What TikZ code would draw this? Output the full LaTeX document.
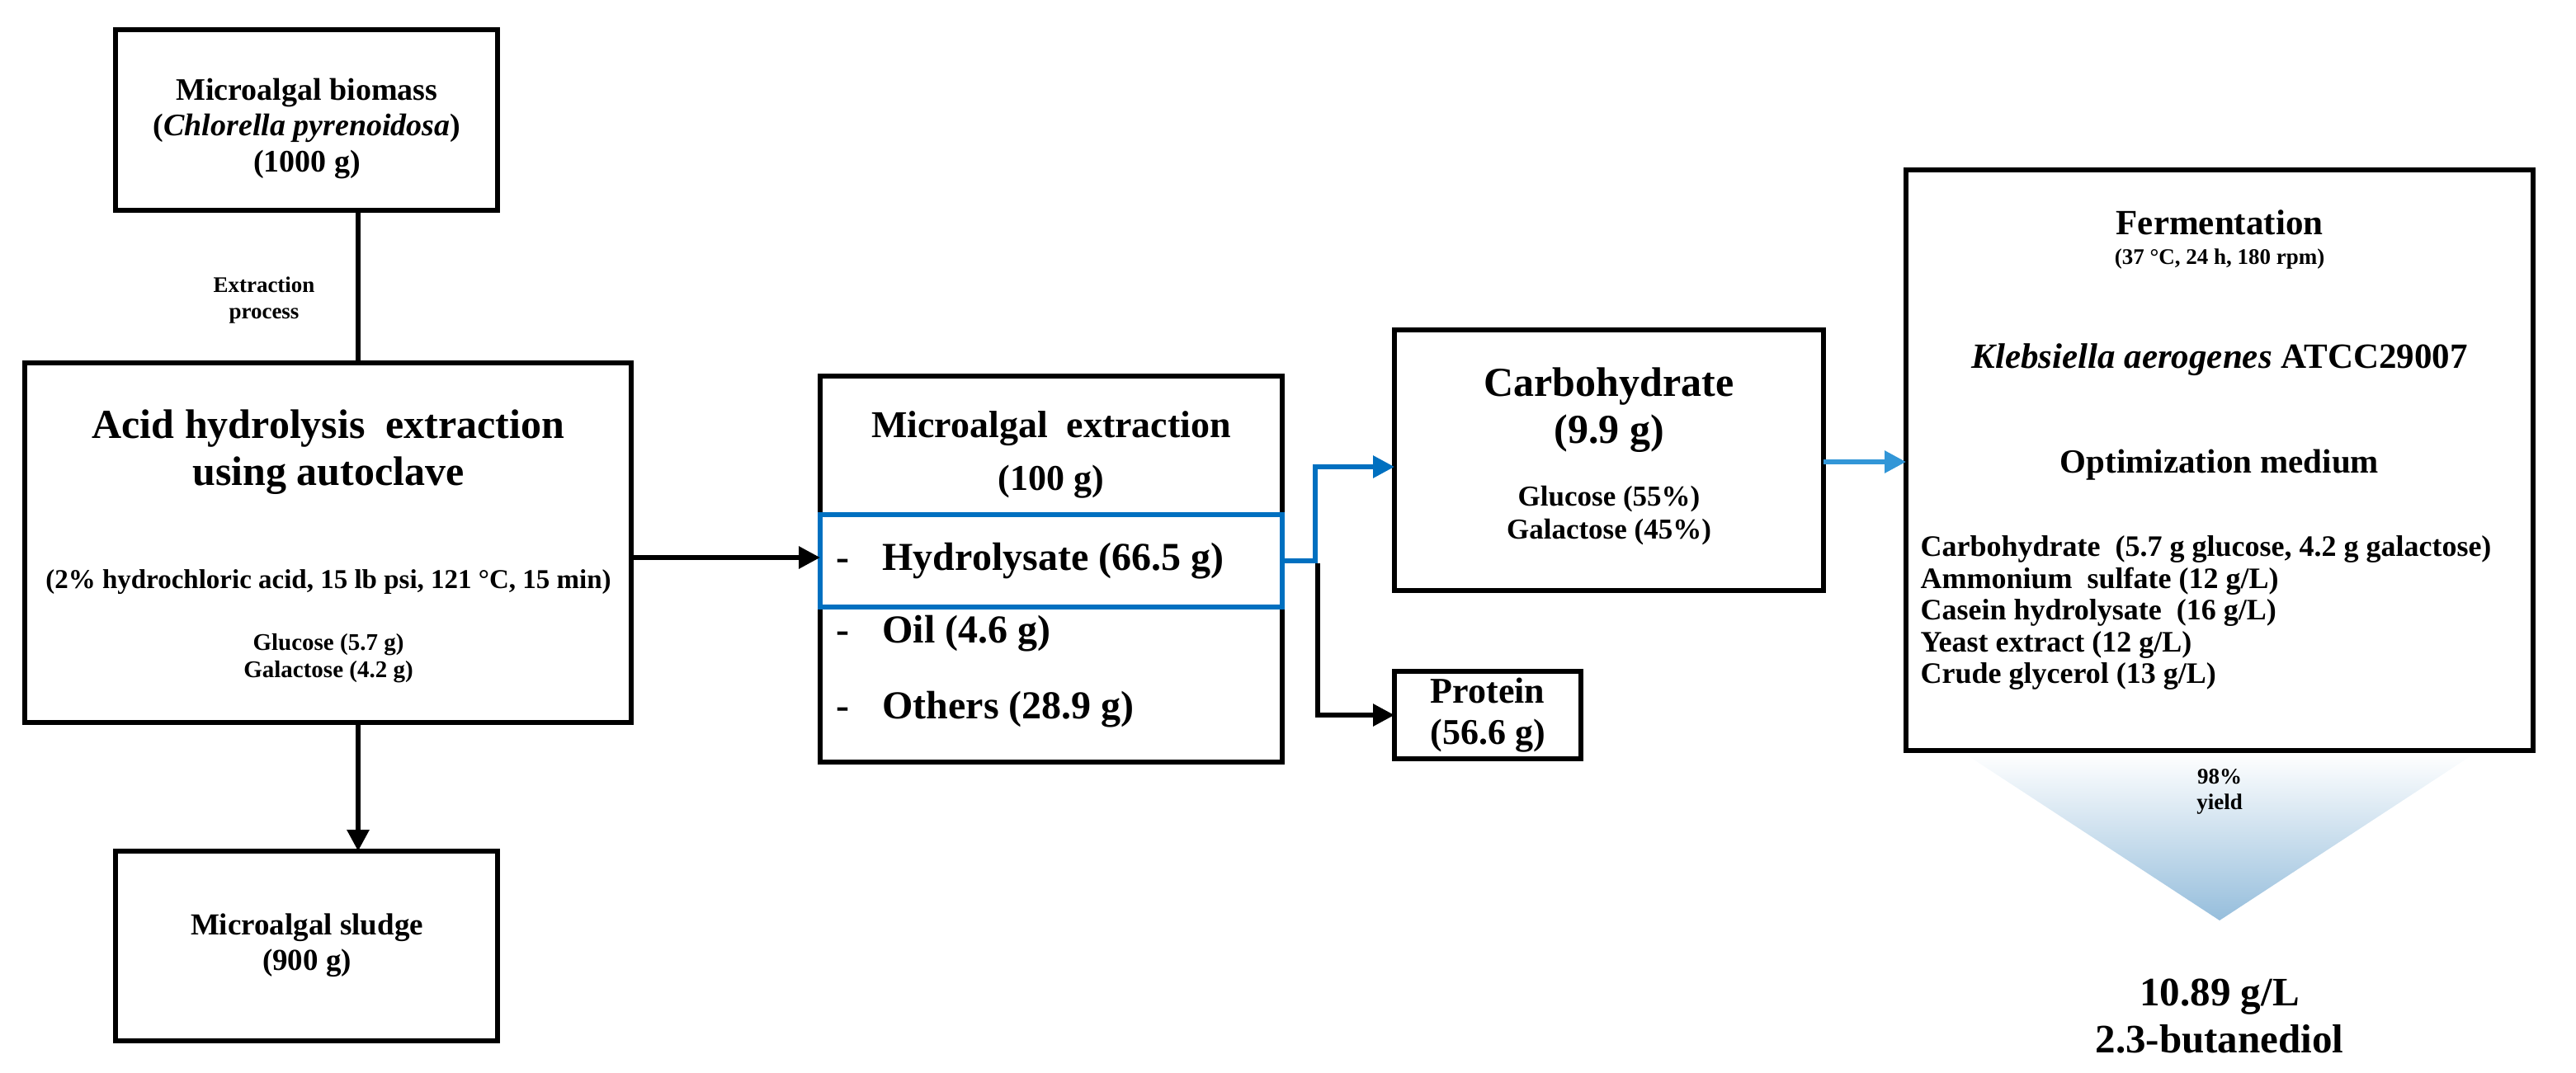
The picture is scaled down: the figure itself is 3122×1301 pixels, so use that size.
\documentclass[tikz,border=0pt]{standalone}
\usepackage{fontspec}
\setmainfont{Liberation Serif}
\usetikzlibrary{arrows.meta}
\definecolor{bblue}{RGB}{0,112,192}
\definecolor{lblue}{RGB}{50,150,215}
\definecolor{shblue}{RGB}{150,190,220}
\newcommand{\fsz}[1]{\fontsize{#1}{1.15\dimexpr#1pt\relax}\selectfont\bfseries}
\tikzset{
  box/.style={draw,line width=6pt},
  big/.style={font=\fsz{40},align=center},
  small/.style={font=\fsz{27},align=center},
  arr/.style={line width=6pt,-{Triangle[length=26pt,width=26pt]}},
}
\begin{document}
\begin{tikzpicture}[x=1pt,y=-1pt]
\useasboundingbox (0,0) rectangle (3122,1301);
% boxes
\draw[box] (140,36) rectangle (603,255);
\coordinate (b1b) at (434,255);
\node[big,font=\fsz{38}] (t1) at (372,156) {Microalgal biomass\\(\textit{Chlorella pyrenoidosa})\\(1000 g)};
\draw[box] (30,440) rectangle (765,876);
\coordinate (b2t) at (434,440);
\coordinate (b2b) at (434,876);
\coordinate (b2r) at (765,676);
\node[big,font=\fsz{50}] (t2) at (398,548) {Acid hydrolysis\ \ extraction\\using autoclave};
\node[small,font=\fsz{33}] (t2b) at (398,706) {(2\% hydrochloric acid, 15 lb psi, 121 °C, 15 min)};
\node[small,font=\fsz{29}] (t2c) at (398,798) {Glucose (5.7 g)\\Galactose (4.2 g)};
\node[small] (ep) at (320,364) {Extraction\\process};
\draw[box] (140,1032) rectangle (603,1262);
\coordinate (b3t) at (434,1032);
\node[big,font=\fsz{37}] (t3) at (372,1146) {Microalgal sludge\\(900 g)};
% extraction box
\draw[box] (994,456) rectangle (1554,924);
\coordinate (b4l) at (994,676);
\node[big,font=\fsz{46}] (t4) at (1274,520) {Microalgal\ \ extraction};
\node[big,font=\fsz{44}] (t4b) at (1274,584) {(100 g)};
\draw[line width=6pt,bblue] (994,624) rectangle (1554,736);
\coordinate (hr) at (1554,680);
\node[big,font=\fsz{48},anchor=west] (h1) at (1010,680) {-\hspace{40pt}Hydrolysate (66.5 g)};
\node[big,font=\fsz{48},anchor=west] (h2) at (1010,768) {-\hspace{40pt}Oil (4.6 g)};
\node[big,font=\fsz{48},anchor=west] (h3) at (1010,860) {-\hspace{40pt}Others (28.9 g)};
% carbohydrate
\draw[box] (1690,400) rectangle (2210,716);
\coordinate (cl) at (1690,566);
\coordinate (cr) at (2210,560);
\node[big,font=\fsz{50}] (t5) at (1950,497) {Carbohydrate\\(9.9 g)};
\node[small,font=\fsz{35}] (t5b) at (1950,625) {Glucose (55\%)\\Galactose (45\%)};
\draw[box] (1690,814) rectangle (1916,920);
\coordinate (pl) at (1690,867);
\node[big,font=\fsz{44}] (t6) at (1803,867) {Protein\\(56.6 g)};
% fermentation
\draw[box] (2310,206) rectangle (3070,910);
\coordinate (fl) at (2310,560);
\node[big,font=\fsz{43}] (f1) at (2690,270) {Fermentation};
\node[small] (f2) at (2690,314) {(37 °C, 24 h, 180 rpm)};
\node[big,font=\fsz{43}] (f3) at (2690,436) {\textit{Klebsiella aerogenes} ATCC29007};
\node[big,font=\fsz{41}] (f4) at (2690,564) {Optimization medium};
\node[font=\fontsize{36}{38.5}\selectfont\bfseries,align=left,anchor=north west] (f5) at (2324,646) {Carbohydrate\ \ (5.7 g glucose, 4.2 g galactose)\\Ammonium\ \ sulfate (12 g/L)\\Casein hydrolysate\ \ (16 g/L)\\Yeast extract (12 g/L)\\Crude glycerol (13 g/L)};
% big arrow
\shade[top color=white,bottom color=shblue] (2380,913) -- (3000,913) -- (2690,1116) -- cycle;
\node[small] (y) at (2690,960) {98\%\\yield};
\node[big,font=\fsz{49}] (res) at (2690,1232) {10.89 g/L\\2.3-butanediol};
% connectors
\draw[line width=6pt] (b1b) -- (b2t);
\draw[arr] (b2b) -- (b3t);
\draw[arr] (b2r) -- (b4l);
\draw[arr,bblue] (hr) -- (1594,680) |- (cl);
\draw[arr] (1597,683) |- (pl);
\draw[arr,lblue] (cr) -- (fl);
\end{tikzpicture}
\end{document}
